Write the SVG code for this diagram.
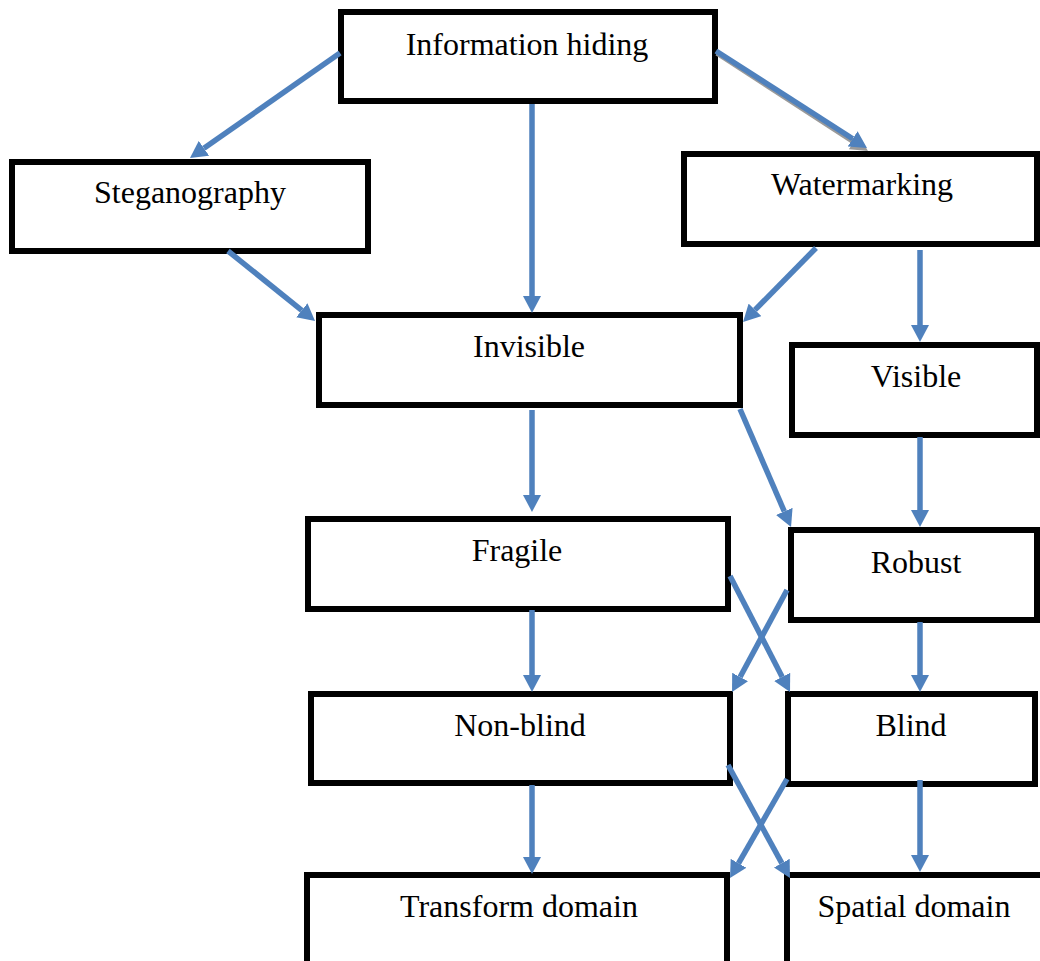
<svg xmlns="http://www.w3.org/2000/svg" width="1040" height="961" viewBox="0 0 1040 961">
<style>
.box{fill:#fff;stroke:#000;stroke-width:6}
.lbl{font-family:"Liberation Serif","Times New Roman",serif;font-size:32px;fill:#000;text-anchor:middle}
.arr{fill:none;stroke:#4F81BD;stroke-width:5.5;marker-end:url(#ah)}
.shd{fill:none;stroke:#9A9A9A;stroke-width:5.5;marker-end:url(#ahg)}
</style>
<defs>
<marker id="ah" viewBox="0 0 17 18" refX="0" refY="9" markerWidth="17" markerHeight="18" markerUnits="userSpaceOnUse" orient="auto">
<path d="M0,0 L17,9 L0,18 z" fill="#4F81BD"/>
</marker>
<marker id="ahg" viewBox="0 0 17 18" refX="0" refY="9" markerWidth="17" markerHeight="18" markerUnits="userSpaceOnUse" orient="auto">
<path d="M0,0 L17,9 L0,18 z" fill="#9A9A9A"/>
</marker>
</defs>
<rect width="1040" height="961" fill="#fff"/>
<g id="n-info"><rect class="box" x="341" y="12" width="374" height="89"/><text class="lbl" x="527" y="55">Information hiding</text></g>
<g id="n-steg"><rect class="box" x="12" y="162" width="356" height="89"/><text class="lbl" x="190" y="203">Steganography</text></g>
<g id="n-water"><rect class="box" x="684" y="154" width="353" height="90"/><text class="lbl" x="862" y="195">Watermarking</text></g>
<g id="n-invisible"><rect class="box" x="319" y="315" width="421" height="90"/><text class="lbl" x="529" y="357">Invisible</text></g>
<g id="n-visible"><rect class="box" x="792" y="345" width="245" height="90"/><text class="lbl" x="916" y="387">Visible</text></g>
<g id="n-fragile"><rect class="box" x="308" y="519" width="420" height="90"/><text class="lbl" x="517" y="561">Fragile</text></g>
<g id="n-robust"><rect class="box" x="791" y="530" width="246" height="90"/><text class="lbl" x="916" y="573">Robust</text></g>
<g id="n-nonblind"><rect class="box" x="311" y="694" width="419" height="89"/><text class="lbl" x="520" y="736">Non-blind</text></g>
<g id="n-blind"><rect class="box" x="788" y="694" width="247" height="90"/><text class="lbl" x="911" y="736">Blind</text></g>
<g id="n-transform"><rect class="box" x="307" y="875" width="420" height="100"/><text class="lbl" x="519" y="917">Transform domain</text></g>
<g id="n-spatial"><rect class="box" x="787" y="875" width="260" height="100"/><text class="lbl" x="914" y="917">Spatial domain</text></g>
<g id="connectors">
<path class="shd" d="M717,53 L853.7,141.8"/>
<path class="arr" d="M340,53 L203.9,148.3"/>
<path class="arr" d="M532,104 L532,296"/>
<path class="arr" d="M716,51 L852.7,138.8"/>
<path class="arr" d="M228,251 L301.8,310.3"/>
<path class="arr" d="M816,248 L755,309.9"/>
<path class="arr" d="M920,250 L920,325"/>
<path class="arr" d="M532,410 L532,495"/>
<path class="arr" d="M740,409 L784.3,511.4"/>
<path class="arr" d="M920,437 L920,510"/>
<path class="arr" d="M730,576 L782.2,676.9"/>
<path class="arr" d="M787,590 L740.1,677"/>
<path class="arr" d="M532,610 L532,675"/>
<path class="arr" d="M920,622 L920,675"/>
<path class="arr" d="M728,765 L781.8,863.1"/>
<path class="arr" d="M787,779 L738.5,863.3"/>
<path class="arr" d="M532,785 L532,857"/>
<path class="arr" d="M920,780 L920,855"/>
</g>
</svg>
